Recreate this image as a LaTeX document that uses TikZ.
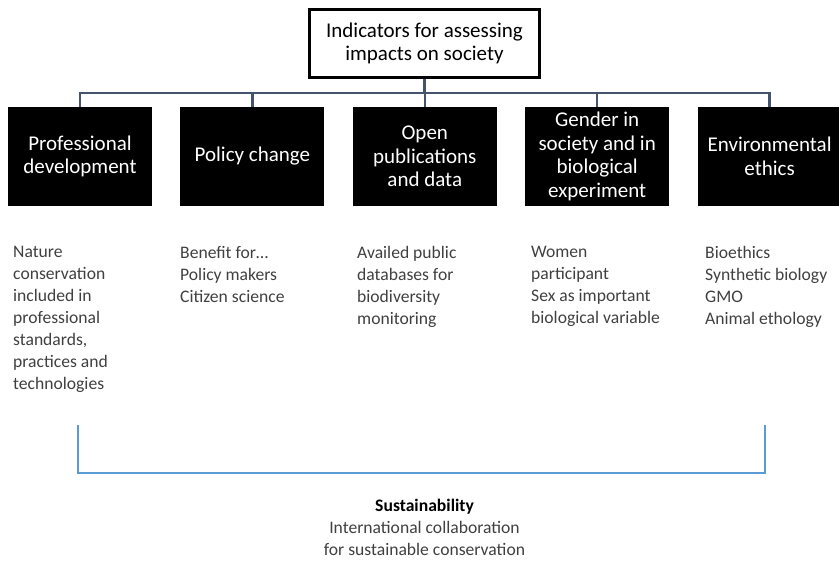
\documentclass[tikz,border=0pt]{standalone}
\usepackage{fontspec}
\setmainfont{Carlito}
\usetikzlibrary{positioning}
\definecolor{slate}{HTML}{44546A}
\definecolor{skyblue}{HTML}{5B9BD5}
\definecolor{txtgray}{HTML}{404040}
\newcommand{\bx}{\fontsize{21}{23.5}\selectfont}
\newcommand{\ds}{\fontsize{17.6}{22}\selectfont}

\begin{document}
\begin{tikzpicture}[x=1pt,y=-1pt,
   cat/.style={fill=black,text=white,minimum width=144pt,minimum height=99pt,
               inner sep=0pt,align=center,font=\bx},
   desc/.style={anchor=north west,inner sep=0pt,align=left,font=\ds,text=txtgray},
   link/.style={draw=slate,line width=2.5pt}]
   \useasboundingbox (0,0) rectangle (839,563);
   % top box
   \node[draw,line width=2.5pt,minimum width=230pt,minimum height=68pt,
         align=center,font=\bx] (top) at (424.5,43.5) {Indicators for assessing\\impacts on society};
   % categories
   \node[cat] (prof) at (80,156.5) {Professional\\development};
   \node[cat,right=28pt of prof] (policy) {Policy change};
   \node[cat,right=28pt of policy] (open) {Open\\publications\\and data};
   \node[cat,right=28pt of open] (gender) {Gender in\\society and in\\biological\\experiment};
   \node[cat,right=28pt of gender] (env) {Environmental\\ethics};
   \coordinate (bus) at (0,93);
   \foreach \n in {prof,policy,open,gender,env}
     \draw[link] (top.south) -- (top.south |- bus) -| (\n.north);
   % descriptions
   \node[desc] (profd) at (13,246) {Nature\\conservation\\included in\\professional\\standards,\\practices and\\technologies};
   \node[desc] (policyd) at (180,246) {Benefit for\dots\\Policy makers\\Citizen science};
   \node[desc] (opend) at (357,246) {Availed public\\databases for\\biodiversity\\monitoring};
   \node[desc] (genderd) at (531,246) {Women\\participant\\Sex as important\\biological variable};
   \node[desc] (envd) at (705,246) {Bioethics\\Synthetic biology\\GMO\\Animal ethology};
   % bracket
   \coordinate (bl) at (78,425);
   \coordinate (br) at (765,425);
   \draw[skyblue,line width=1.5pt] (bl) |- (br |- 0,473) -- (br);
   \node[font=\ds\bfseries,inner sep=0pt] (sust) at (424.5,507) {Sustainability};
   \node[font=\ds,text=txtgray,align=center,inner sep=0pt,below=6pt of sust] (sustd)
     {International collaboration\\for sustainable conservation};
\end{tikzpicture}
\end{document}
